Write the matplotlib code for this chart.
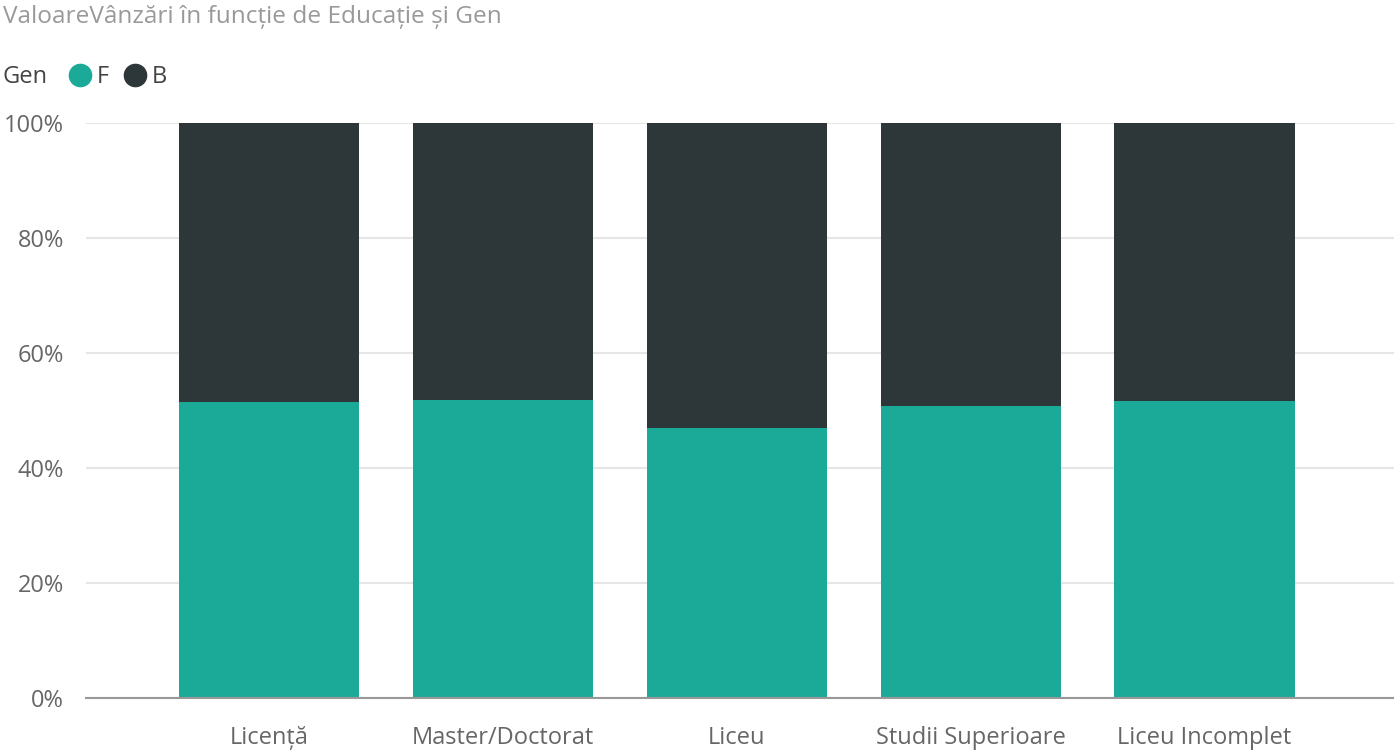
import matplotlib.pyplot as plt
from matplotlib.lines import Line2D
from matplotlib.ticker import PercentFormatter

# data (share of sales value per education level)
categorii = ["Licență", "Master/Doctorat", "Liceu", "Studii Superioare", "Liceu Incomplet"]
femei = [0.515, 0.518, 0.469, 0.508, 0.517]
barbati = [1 - v for v in femei]

teal = "#1BAA98"
dark = "#2D3638"

plt.rcParams["font.family"] = ["Open Sans", "DejaVu Sans"]

fig = plt.figure(figsize=(13.94, 7.52), dpi=100)
ax = fig.add_axes([86 / 1394, 1 - 698 / 752, 1308 / 1394, 575 / 752])

x = range(len(categorii))
ax.bar(x, femei, width=0.77, color=teal, label="F")
ax.bar(x, barbati, width=0.77, bottom=femei, color=dark, label="B")

ax.set_xlim(-0.782, 4.81)
ax.set_ylim(0, 1)
ax.set_yticks([0, 0.2, 0.4, 0.6, 0.8, 1.0])
ax.yaxis.set_major_formatter(PercentFormatter(1.0, decimals=0))
ax.set_xticks(list(x))
ax.set_xticklabels(categorii)
ax.tick_params(axis="both", length=0, labelsize=17, labelcolor="#666666")
ax.tick_params(axis="y", pad=16)
ax.tick_params(axis="x", pad=20)

ax.grid(axis="y", color="#E6E6E6", linewidth=1.5)
ax.set_axisbelow(True)
for s in ["top", "right", "left"]:
    ax.spines[s].set_visible(False)
ax.spines["bottom"].set_color("#999999")
ax.spines["bottom"].set_linewidth(1.5)

fig.text(3 / 1394, 1 - 17 / 752, "ValoareVânzări în funcție de Educație și Gen",
         fontsize=17.6, color="#999999", va="center", ha="left")
fig.text(3 / 1394, 1 - 77 / 752, "Gen", fontsize=17, color="#444444", va="center", ha="left")

handles = [Line2D([], [], marker="o", linestyle="", markersize=16, color=teal),
           Line2D([], [], marker="o", linestyle="", markersize=16, color=dark)]
fig.legend(handles, ["F", "B"], loc="center left", bbox_to_anchor=(58 / 1394, 1 - 77 / 752),
           ncol=2, frameon=False, fontsize=17, labelcolor="#444444",
           handletextpad=0.15, columnspacing=0.55, handlelength=1.1, borderaxespad=0)

fig.savefig("out.png", dpi=100)
